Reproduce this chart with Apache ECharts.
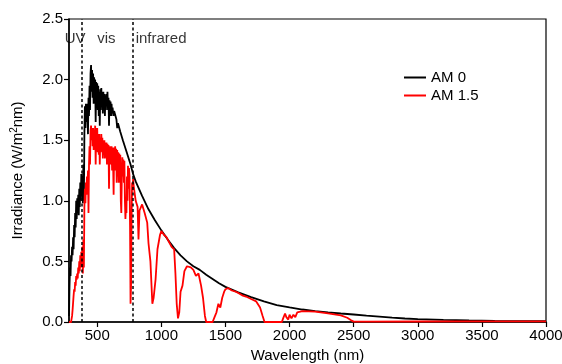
<!DOCTYPE html>
<html><head><meta charset="utf-8">
<script src="https://cdn.jsdelivr.net/npm/echarts@6/dist/echarts.min.js"></script>
<style>html,body{margin:0;padding:0;background:#fff}#c{width:562px;height:364px}</style>
</head><body><div id="c"></div>
<script>
// AM 0 (extraterrestrial) spectrum
const am0Wavelength = [280,284,288,292,296,300,304,308,312,316,320,324,328,332,336,340,344,348,352,356,360,364,368,372,376,380,384,388,392,396,
  400,404,408,412,416,420,424,428,432,436,440,444,448,452,456,460,464,468,472,476,480,484,488,492,496,500,504,508,512,516,520,524,528,532,536,540,544,548,552,556,560,564,568,572,576,580,584,588,592,596,600,604,608,612,616,620,626,632,640,650,656,662,680,
  700,730,760,780,800,850,900,950,1000,1050,1100,1150,1200,1250,1300,1350,1400,1450,1500,1600,1700,1800,1900,2000,2100,2200,2300,2400,2500,2600,2700,2800,2900,3000,3200,3400,3600,3800,4000];
const am0Irradiance = [0.05,0.3,0.45,0.38,0.55,0.5,0.62,0.55,0.7,0.6,0.8,0.7,0.9,0.78,1.0,0.85,1.02,0.9,1.05,0.88,1.1,0.95,1.15,1.0,1.22,1.05,1.2,0.98,1.3,1.0,
  1.55,1.78,1.6,1.8,1.65,1.8,1.7,1.55,1.85,1.7,1.95,1.75,2.05,2.12,1.9,2.08,1.85,2.05,1.8,2.02,1.9,2.0,1.65,1.98,1.8,1.97,1.75,1.95,1.7,1.9,1.62,1.92,1.75,1.93,1.78,1.9,1.72,1.9,1.78,1.88,1.7,1.87,1.75,1.88,1.8,1.9,1.75,1.85,1.62,1.83,1.75,1.82,1.7,1.8,1.72,1.77,1.7,1.74,1.71,1.67,1.6,1.64,1.57,
  1.5,1.4,1.3,1.22,1.16,1.04,0.93,0.84,0.756,0.68,0.61,0.55,0.5,0.46,0.43,0.39,0.355,0.32,0.29,0.245,0.205,0.17,0.14,0.12,0.103,0.09,0.079,0.07,0.062,0.052,0.044,0.036,0.029,0.023,0.017,0.013,0.01,0.008,0.006];

// AM 1.5 (terrestrial) spectrum
const am15Wavelength = [280,296,300,304,308,312,316,320,324,328,332,336,340,344,348,352,356,360,364,368,372,376,380,384,388,392,396,
  400,404,408,412,416,420,424,428,432,436,440,444,448,452,456,460,464,468,472,476,480,484,488,492,496,500,504,508,512,516,520,524,528,532,536,540,544,548,552,556,560,564,568,572,576,580,584,588,592,596,600,604,608,612,616,620,624,628,632,636,640,644,648,652,656,660,664,668,672,676,680,684,688,692,696,700,704,708,712,716,720,724,728,732,736,740,744,748,752,756,760,764,768,772,776,780,785,790,800,
  815,822,830,850,870,890,900,915,930,940,955,970,990,1000,1020,1040,1060,1080,1100,1110,1120,1130,1140,1150,1165,1180,1200,1230,1250,1270,1290,1310,1325,1340,1350,1400,1415,1430,1445,1460,1475,1490,1500,1520,1550,1580,1600,1630,1660,1700,1740,1770,1790,1805,1940,1950,1965,1975,1990,2000,2015,2030,2045,2060,2100,2200,2300,2400,2450,2480,2500,2600,3000,3500,4000];
const am15Irradiance = [0,0,0.01,0.05,0.1,0.16,0.22,0.27,0.25,0.33,0.3,0.38,0.35,0.4,0.36,0.45,0.4,0.5,0.42,0.55,0.45,0.58,0.5,0.62,0.4,0.68,0.45,
  0.95,1.1,0.98,1.15,1.05,1.2,1.1,1.25,0.9,1.3,1.45,1.3,1.58,1.62,1.5,1.6,1.45,1.6,1.42,1.58,1.5,1.62,1.3,1.6,1.45,1.6,1.4,1.55,1.38,1.55,1.3,1.52,1.4,1.55,1.45,1.52,1.35,1.5,1.4,1.5,1.35,1.48,1.4,1.48,1.3,1.47,1.35,1.46,1.1,1.45,1.32,1.45,1.3,1.45,1.25,1.44,1.3,1.05,1.44,1.25,1.45,1.25,1.43,1.15,1.42,1.2,1.4,1.15,1.39,1.2,1.38,1.0,0.9,1.2,1.36,1.2,1.34,1.15,1.33,1.0,0.85,0.95,0.9,1.2,1.0,1.29,1.1,1.27,1.2,0.8,0.15,0.3,0.85,1.15,1.1,1.18,1.12,1.13,1.0,
  0.95,0.68,0.92,0.97,0.9,0.82,0.65,0.5,0.15,0.2,0.35,0.6,0.72,0.75,0.72,0.7,0.66,0.62,0.6,0.4,0.15,0.03,0.08,0.25,0.3,0.42,0.46,0.45,0.43,0.38,0.4,0.3,0.2,0.05,0,0,0.04,0.08,0.15,0.12,0.2,0.25,0.27,0.28,0.26,0.25,0.24,0.22,0.21,0.19,0.17,0.12,0.05,0,0,0.03,0.07,0.04,0.02,0.06,0.03,0.06,0.04,0.08,0.09,0.085,0.072,0.055,0.035,0.015,0.003,0.003,0.004,0.005,0.005];

const xTicks = [500,1000,1500,2000,2500,3000,3500,4000];
const regionBoundaries = [380, 780];
const regionLabels = [["UV",328,2.34,'center'],["vis",572,2.34,'center'],["infrared",800,2.34,'left']];

const pair = (xs, ys) => xs.map((x,i)=>[x, ys[i]]);
const font = 'Liberation Sans, Arial, Helvetica, sans-serif';
const chart = echarts.init(document.getElementById('c'), null, {renderer:'canvas'});
chart.setOption({
  animation:false,
  grid:{left:69,right:16,top:19,bottom:42,show:true,borderColor:'#000',borderWidth:1.2,containLabel:false,outerBoundsMode:'none'},
  legend:{orient:'vertical',left:399,top:65,itemGap:3,itemWidth:22,itemHeight:2,icon:'rect',
    textStyle:{fontFamily:font,fontSize:15,color:'#000'},data:['AM 0','AM 1.5']},
  xAxis:{type:'value',min:280,max:4000,name:'Wavelength (nm)',nameLocation:'middle',nameGap:26,
    nameTextStyle:{fontFamily:font,fontSize:15,color:'#000'},
    axisLine:{lineStyle:{color:'#000',width:1.5}},
    axisTick:{show:true,length:5,lineStyle:{color:'#000',width:1.2},customValues:xTicks},
    axisLabel:{fontFamily:font,fontSize:15,color:'#000',margin:6,customValues:xTicks,formatter:v=>String(v)},
    splitLine:{show:false}},
  yAxis:{type:'value',min:0,max:2.5,interval:0.5,name:'Irradiance (W/m{sup|2}nm)',nameLocation:'middle',nameGap:42,
    nameTextStyle:{fontFamily:font,fontSize:15,color:'#000',rich:{sup:{fontFamily:font,fontSize:10,verticalAlign:'top',padding:[0,0,8,0]}}},
    axisLine:{show:true,lineStyle:{color:'#000',width:1.5}},
    axisTick:{show:true,length:5,lineStyle:{color:'#000',width:1.2}},
    axisLabel:{fontFamily:font,fontSize:15,color:'#000',margin:6,formatter:v=>v.toFixed(1)},
    splitLine:{show:false}},
  series:[
    {name:'AM 0',type:'line',data:pair(am0Wavelength,am0Irradiance),showSymbol:false,symbol:'none',
      lineStyle:{color:'#000',width:1.8},itemStyle:{color:'#000'}},
    {name:'AM 1.5',type:'line',data:pair(am15Wavelength,am15Irradiance),showSymbol:false,symbol:'none',
      lineStyle:{color:'#ff0000',width:1.8},itemStyle:{color:'#ff0000'},
      markLine:{silent:true,symbol:'none',label:{show:false},
        lineStyle:{color:'#000',type:[3,2.5],width:1.5},
        data:regionBoundaries.map(v=>[{coord:[v,0]},{coord:[v,2.5]}])}},
    {type:'scatter',data:regionLabels.map(r=>({value:[r[1],r[2]],name:r[0],label:{align:r[3]}})),symbolSize:0,silent:true,
      label:{show:true,position:'inside',formatter:p=>p.name,fontFamily:font,fontSize:15,color:'#000'},
      tooltip:{show:false}}
  ]
});
</script></body></html>
